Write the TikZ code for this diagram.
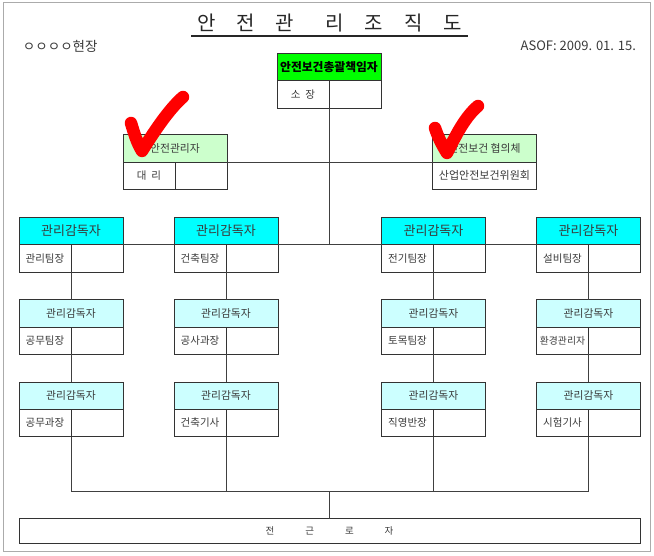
\documentclass[tikz,border=0pt]{standalone}
\usepackage{fontspec}
\setmainfont{Noto Sans CJK KR}
\usetikzlibrary{positioning}

\definecolor{topgreen}{HTML}{00FF00}
\definecolor{palegreen}{HTML}{CCFFCC}
\definecolor{headcyan}{HTML}{00FFFF}
\definecolor{palecyan}{HTML}{CCFFFF}
\definecolor{inkgray}{HTML}{3A3A3A}
\definecolor{framegray}{HTML}{ABABAB}

\begin{document}
\begin{tikzpicture}[
    x=1pt,y=1pt,
    node distance=55pt,
    every node/.style={inner sep=0pt,outer sep=0pt},
    headbox/.style={rectangle,draw=black!80,line width=0.8pt,minimum width=104pt,minimum height=27.3pt,text=inkgray,font=\fontsize{10.8}{12}\selectfont},
    cyanbox/.style={headbox,fill=headcyan,font=\fontsize{13}{16}\selectfont},
    palebox/.style={headbox,fill=palecyan},
    greenbox/.style={headbox,fill=palegreen},
    cell/.style={rectangle,draw=black!80,line width=0.8pt,minimum width=52pt,minimum height=27.3pt,text=inkgray,font=\fontsize{10.5}{12}\selectfont},
    line/.style={draw,black!75,line width=0.8pt},
    tick/.style={draw,red,line width=12.5pt,line cap=round,line join=round}]

    % Frame and title
    \draw[framegray,line width=1.5pt] (3.5,3.5) rectangle (650.5,552.5);
    \useasboundingbox (0,0) rectangle (654,555);
    \node[minimum width=277pt,minimum height=25pt,text=black!85,font=\fontsize{20}{22}\selectfont] (title) at (329.5,531.5)
        {안\hspace{21pt}전\hspace{21pt}관\hspace{31pt}리\hspace{21pt}조\hspace{21pt}직\hspace{21pt}도};
    \node[text=inkgray,font=\fontsize{13.5}{14}\selectfont,anchor=west] (site) at (23,509) {ㅇㅇㅇㅇ현장};
    \node[text=inkgray,font=\fontsize{13}{14}\selectfont,anchor=east] (asof) at (636,509) {ASOF: 2009. 01. 15.};

    % Top manager
    \node[headbox,fill=topgreen,text=black,font=\bfseries\fontsize{11.8}{12}\selectfont] (chief) at (329,488) {안전보건총괄책임자};
    \node[cell,below right=0pt and 0pt of chief.south west] (chiefname) {소~~장};
    \node[cell,right=0pt of chiefname] (chiefblank) {};

    % Staff boxes
    \node[greenbox,below left=54pt and 50pt of chief.south west] (safety) {안전관리자};
    \node[cell,below right=0pt and 0pt of safety.south west] (safetyname) {대~~리};
    \node[cell,right=0pt of safetyname] (safetyblank) {};
    \node[greenbox,below right=54pt and 51.5pt of chief.south east] (council) {안전보건 협의체};
    \node[cell,minimum width=104pt,below=0pt of council,font=\fontsize{11}{12}\selectfont] (councilname) {산업안전보건위원회};

    % Supervisors, first row
    \node[cyanbox] (mgrA) at (71,323.9) {관리감독자};
    \node[cell,below right=0pt and 0pt of mgrA.south west] (mgrAname) {관리팀장};
    \node[cell,right=0pt of mgrAname] (mgrAblank) {};
    \node[cyanbox,right=51pt of mgrA] (mgrB) {관리감독자};
    \node[cell,below right=0pt and 0pt of mgrB.south west] (mgrBname) {건축팀장};
    \node[cell,right=0pt of mgrBname] (mgrBblank) {};
    \node[cyanbox,right=103.5pt of mgrB] (mgrC) {관리감독자};
    \node[cell,below right=0pt and 0pt of mgrC.south west] (mgrCname) {전기팀장};
    \node[cell,right=0pt of mgrCname] (mgrCblank) {};
    \node[cyanbox,right=51pt of mgrC] (mgrD) {관리감독자};
    \node[cell,below right=0pt and 0pt of mgrD.south west] (mgrDname) {설비팀장};
    \node[cell,right=0pt of mgrDname] (mgrDblank) {};

    % Supervisors, second row
    \node[palebox,below=of mgrA] (subA) {관리감독자};
    \node[cell,below right=0pt and 0pt of subA.south west] (subAname) {공무팀장};
    \node[cell,right=0pt of subAname] (subAblank) {};
    \node[palebox,below=of mgrB] (subB) {관리감독자};
    \node[cell,below right=0pt and 0pt of subB.south west] (subBname) {공사과장};
    \node[cell,right=0pt of subBname] (subBblank) {};
    \node[palebox,below=of mgrC] (subC) {관리감독자};
    \node[cell,below right=0pt and 0pt of subC.south west] (subCname) {토목팀장};
    \node[cell,right=0pt of subCname] (subCblank) {};
    \node[palebox,below=of mgrD] (subD) {관리감독자};
    \node[cell,below right=0pt and 0pt of subD.south west,font=\fontsize{9.8}{12}\selectfont] (subDname) {환경관리자};
    \node[cell,right=0pt of subDname] (subDblank) {};

    % Supervisors, third row
    \node[palebox,below=of subA] (lowA) {관리감독자};
    \node[cell,below right=0pt and 0pt of lowA.south west] (lowAname) {공무과장};
    \node[cell,right=0pt of lowAname] (lowAblank) {};
    \node[palebox,below=of subB] (lowB) {관리감독자};
    \node[cell,below right=0pt and 0pt of lowB.south west] (lowBname) {건축기사};
    \node[cell,right=0pt of lowBname] (lowBblank) {};
    \node[palebox,below=of subC] (lowC) {관리감독자};
    \node[cell,below right=0pt and 0pt of lowC.south west] (lowCname) {직영반장};
    \node[cell,right=0pt of lowCname] (lowCblank) {};
    \node[palebox,below=of subD] (lowD) {관리감독자};
    \node[cell,below right=0pt and 0pt of lowD.south west] (lowDname) {시험기사};
    \node[cell,right=0pt of lowDname] (lowDblank) {};

    % All workers
    \node[cell,minimum width=621pt,minimum height=25pt,font=\fontsize{9.5}{12}\selectfont] (workers) at (329.5,23.7)
        {전\hspace{31pt}근\hspace{31pt}로\hspace{31pt}자};
    \coordinate[above=27.5pt of workers] (bus);

    % Connect boxes
    \draw[black!35,line width=1.2pt,yshift=-1.3pt] (title.south west) -- (title.south east);
    \draw[black!85,line width=1.2pt] (title.south west) -- (title.south east);
    \path[line] (safety.south east) -- (council.south west);
    \path[line] (chiefname.south east) -- (chiefname.south east |- mgrB.south);
    \path[line] (mgrA.south east) -- (mgrB.south west);
    \path[line] (mgrB.south east) -- (mgrC.south west);
    \path[line] (mgrC.south east) -- (mgrD.south west);
    \path[line] (mgrAname.south east) -- (subA.north);
    \path[line] (mgrBname.south east) -- (subB.north);
    \path[line] (mgrCname.south east) -- (subC.north);
    \path[line] (mgrDname.south east) -- (subD.north);
    \path[line] (subAname.south east) -- (lowA.north);
    \path[line] (subBname.south east) -- (lowB.north);
    \path[line] (subCname.south east) -- (lowC.north);
    \path[line] (subDname.south east) -- (lowD.north);
    \path[line] (lowAname.south east) |- (bus);
    \path[line] (lowBname.south east) |- (bus);
    \path[line] (lowCname.south east) |- (bus);
    \path[line] (lowDname.south east) |- (bus);
    \path[line] (bus) -- (workers.north);

    % Red check marks
    \draw[tick] (131,432) .. controls (134,422) and (137,412) .. (142,404) .. controls (152,420) and (168,445) .. (183,458);
    \draw[tick] (435,427) .. controls (438,418) and (442,410) .. (447,402) .. controls (456,420) and (465,438) .. (478,449);
\end{tikzpicture}
\end{document}
